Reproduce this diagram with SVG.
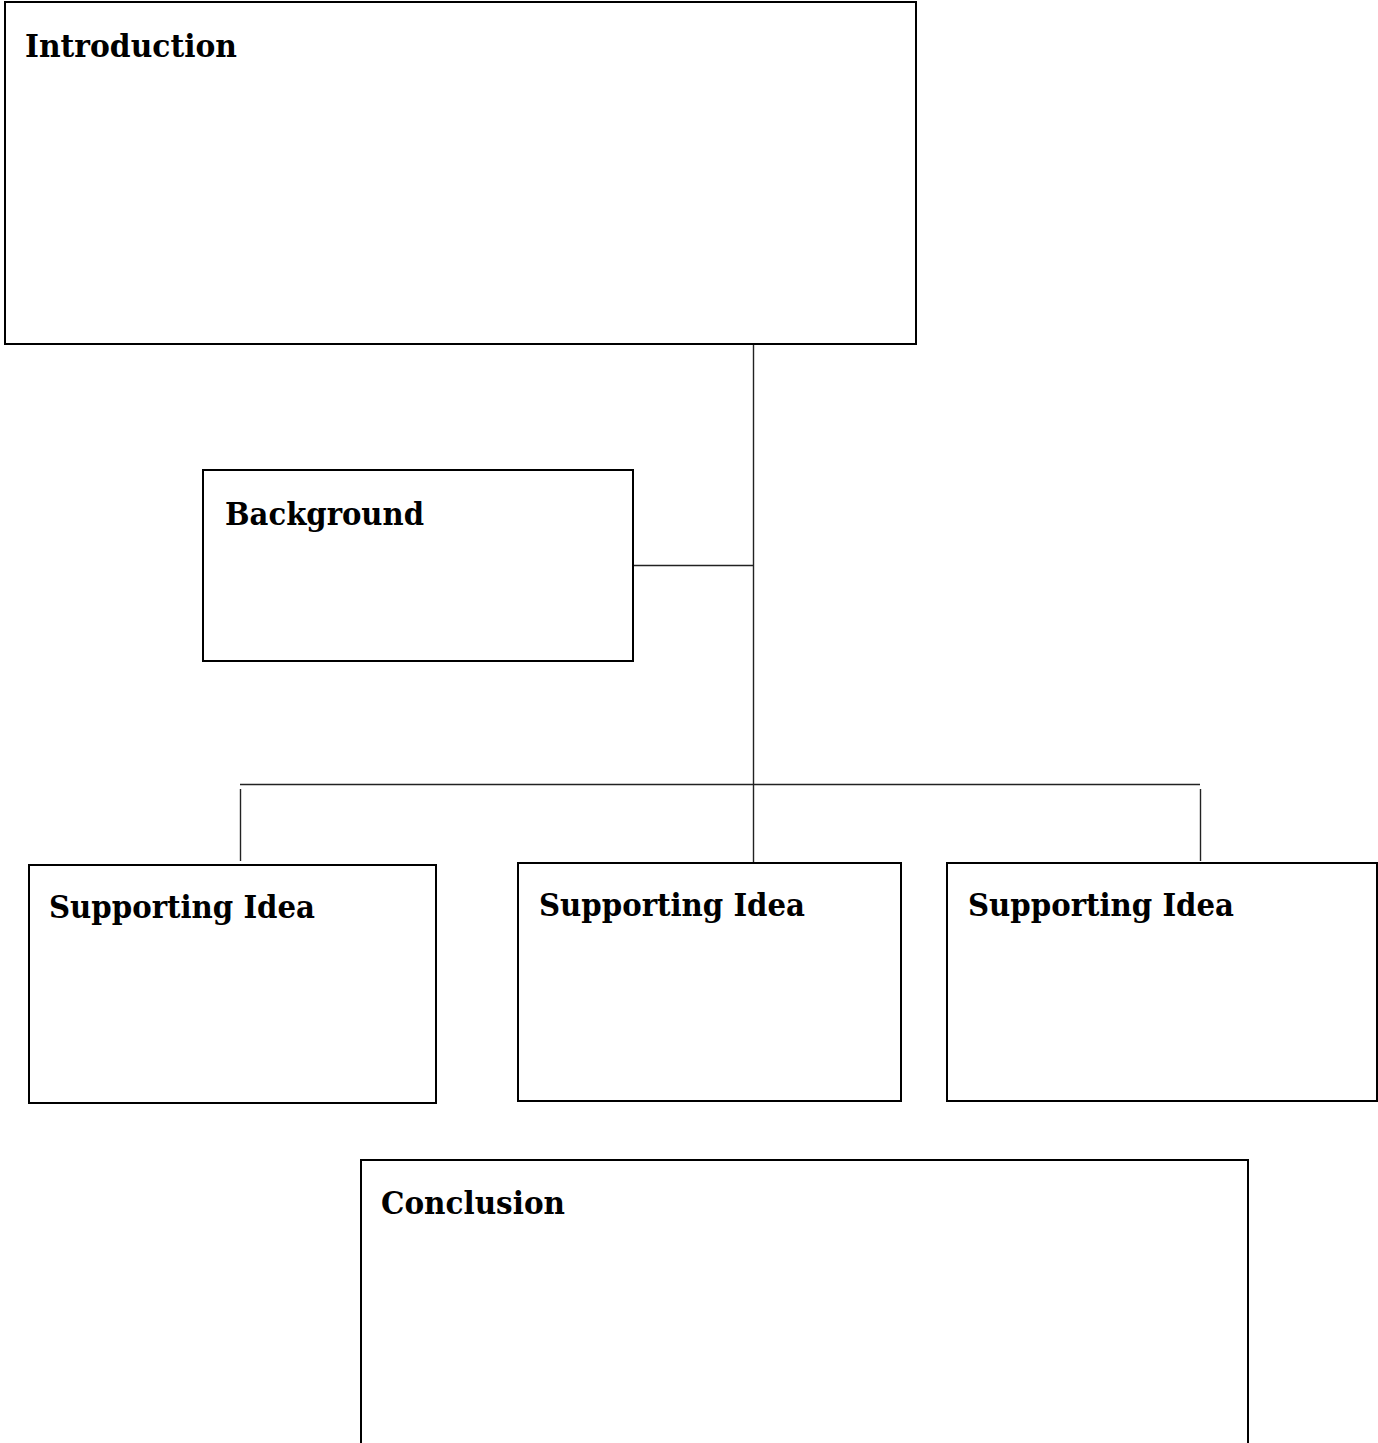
<svg xmlns="http://www.w3.org/2000/svg" width="1378" height="1443" viewBox="0 0 1378 1443">
<style>
.box{fill:#fff;stroke:#000;stroke-width:2}
.lbl{font-family:"DejaVu Serif","Liberation Serif",serif;font-weight:bold;font-size:31px;fill:#000}
.con{stroke:#222;stroke-width:1.4;fill:none}
</style>
<rect width="1378" height="1443" fill="#fff"/>
<g id="connectors">
<line class="con" x1="753.5" y1="345" x2="753.5" y2="862"/>
<line class="con" x1="634" y1="565.5" x2="753.5" y2="565.5"/>
<line class="con" x1="240" y1="784.5" x2="1200" y2="784.5"/>
<line class="con" x1="240.5" y1="789" x2="240.5" y2="861"/>
<line class="con" x1="1200.5" y1="789" x2="1200.5" y2="861"/>
</g>
<g id="introduction">
<rect class="box" x="5" y="2" width="911" height="342"/>
<text class="lbl" x="25" y="57" textLength="212" lengthAdjust="spacingAndGlyphs">Introduction</text>
</g>
<g id="background">
<rect class="box" x="203" y="470" width="430" height="191"/>
<text class="lbl" x="225" y="525" textLength="199" lengthAdjust="spacingAndGlyphs">Background</text>
</g>
<g id="supporting1">
<rect class="box" x="29" y="865" width="407" height="238"/>
<text class="lbl" x="49" y="918" textLength="266" lengthAdjust="spacingAndGlyphs">Supporting Idea</text>
</g>
<g id="supporting2">
<rect class="box" x="518" y="863" width="383" height="238"/>
<text class="lbl" x="539" y="916" textLength="266" lengthAdjust="spacingAndGlyphs">Supporting Idea</text>
</g>
<g id="supporting3">
<rect class="box" x="947" y="863" width="430" height="238"/>
<text class="lbl" x="968" y="916" textLength="266" lengthAdjust="spacingAndGlyphs">Supporting Idea</text>
</g>
<g id="conclusion">
<rect class="box" x="361" y="1160" width="887" height="300"/>
<text class="lbl" x="381" y="1214" textLength="184" lengthAdjust="spacingAndGlyphs">Conclusion</text>
</g>
</svg>
